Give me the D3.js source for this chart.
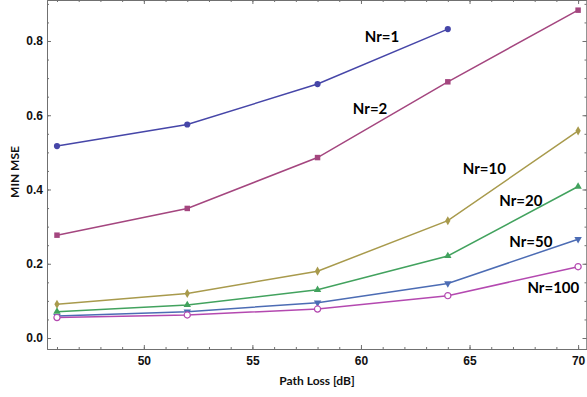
<!DOCTYPE html>
<html>
<head>
<meta charset="utf-8">
<script src="https://cdn.jsdelivr.net/npm/d3@7"></script>
<style>
  html, body { margin: 0; padding: 0; background: #fff; }
  svg { display: block; font-family: Lato, "Open Sans", sans-serif; }
</style>
</head>
<body>
<svg id="chart" width="587" height="397"></svg>
<script>
const pathLoss = [46, 52, 58, 64, 70];
const nr1 = [0.517, 0.575, 0.684, 0.832];
const nr2 = [0.277, 0.349, 0.486, 0.690, 0.883];
const nr10 = [0.091, 0.120, 0.180, 0.316, 0.558];
const nr20 = [0.071, 0.089, 0.130, 0.221, 0.408];
const nr50 = [0.059, 0.071, 0.095, 0.147, 0.266];
const nr100 = [0.055, 0.062, 0.078, 0.114, 0.192];
const xTicks = [50, 55, 60, 65, 70];
const yTicks = [0.0, 0.2, 0.4, 0.6, 0.8];

const series = [
  { name: 'Nr=1', values: nr1, color: '#4646a8', shape: 'circle', label: [60.97, 0.813] },
  { name: 'Nr=2', values: nr2, color: '#a4467f', shape: 'square', label: [60.42, 0.617] },
  { name: 'Nr=10', values: nr10, color: '#a89a4c', shape: 'diamond', label: [65.68, 0.457] },
  { name: 'Nr=20', values: nr20, color: '#42a25e', shape: 'up', label: [67.36, 0.369] },
  { name: 'Nr=50', values: nr50, color: '#4c6cb4', shape: 'down', label: [67.82, 0.259] },
  { name: 'Nr=100', values: nr100, color: '#b449b0', shape: 'open', label: [68.86, 0.135] }
];

const width = 587, height = 397;
const frame = { left: 47, right: 587, top: 0, bottom: 349 };
const svg = d3.select('#chart');

const x = d3.scaleLinear().domain([45.54, 70.41]).range([frame.left, frame.right]);
const y = d3.scaleLinear().domain([-0.0296, 0.9104]).range([frame.bottom, frame.top]);

const minorX = d3.range(46, 71, 1);
const minorY = d3.range(0, 0.91, 0.05);
const axisColor = '#707070';

const styleAxis = (g) => {
  g.selectAll('.domain').attr('stroke', axisColor);
  g.selectAll('.tick line').attr('stroke', axisColor);
  g.selectAll('text').attr('fill', '#111').attr('font-size', 12).attr('font-weight', 'bold');
};

// bottom
svg.append('g').attr('transform', `translate(0,${frame.bottom})`)
  .call(d3.axisBottom(x).tickValues(minorX).tickSize(-2).tickSizeOuter(0).tickFormat(''))
  .call(styleAxis);
svg.append('g').attr('transform', `translate(0,${frame.bottom})`)
  .call(d3.axisBottom(x).tickValues(xTicks).tickSize(-4).tickSizeOuter(0).tickPadding(7.5).tickFormat(d3.format('d')))
  .call(styleAxis);
// top
svg.append('g').attr('transform', `translate(0,${frame.top})`)
  .call(d3.axisTop(x).tickValues(minorX).tickSize(-2).tickSizeOuter(0).tickFormat(''))
  .call(styleAxis);
svg.append('g').attr('transform', `translate(0,${frame.top})`)
  .call(d3.axisTop(x).tickValues(xTicks).tickSize(-4).tickSizeOuter(0).tickFormat(''))
  .call(styleAxis);
// left
svg.append('g').attr('transform', `translate(${frame.left},0)`)
  .call(d3.axisLeft(y).tickValues(minorY).tickSize(-2).tickSizeOuter(0).tickFormat(''))
  .call(styleAxis);
svg.append('g').attr('transform', `translate(${frame.left},0)`)
  .call(d3.axisLeft(y).tickValues(yTicks).tickSize(-4).tickSizeOuter(0).tickPadding(4).tickFormat(d3.format('.1f')))
  .call(styleAxis);
// right
svg.append('g').attr('transform', `translate(${frame.right - 0.5},0)`)
  .call(d3.axisRight(y).tickValues(minorY).tickSize(-2).tickSizeOuter(0).tickFormat(''))
  .call(styleAxis);
svg.append('g').attr('transform', `translate(${frame.right - 0.5},0)`)
  .call(d3.axisRight(y).tickValues(yTicks).tickSize(-4).tickSizeOuter(0).tickFormat(''))
  .call(styleAxis);

// axis titles
svg.append('text')
  .attr('x', 317).attr('y', 385)
  .attr('text-anchor', 'middle')
  .attr('font-size', 12).attr('font-weight', 'bold').attr('fill', '#111')
  .text('Path Loss [dB]');
svg.append('text')
  .attr('transform', 'translate(19,172) rotate(-90)')
  .attr('text-anchor', 'middle')
  .attr('font-size', 12).attr('font-weight', 'bold').attr('fill', '#111')
  .text('MIN MSE');

const line = d3.line().x((d) => x(d[0])).y((d) => y(d[1]));
const symbols = {
  circle: d3.symbol().type(d3.symbolCircle).size(30),
  open: d3.symbol().type(d3.symbolCircle).size(30),
  square: d3.symbol().type(d3.symbolSquare).size(30),
  diamond: d3.symbol().type(d3.symbolDiamond).size(24),
  up: d3.symbol().type(d3.symbolTriangle).size(24),
  down: d3.symbol().type(d3.symbolTriangle).size(24)
};

series.forEach((s) => {
  const pts = s.values.map((v, i) => [pathLoss[i], v]);
  svg.append('path')
    .datum(pts)
    .attr('d', line)
    .attr('fill', 'none')
    .attr('stroke', s.color)
    .attr('stroke-width', 1.5);
  svg.append('g')
    .selectAll('path')
    .data(pts)
    .enter()
    .append('path')
    .attr('d', symbols[s.shape])
    .attr('transform', (d) => `translate(${x(d[0])},${y(d[1])})${s.shape === 'down' ? ' rotate(180)' : ''}`)
    .attr('fill', s.shape === 'open' ? '#fff' : s.color)
    .attr('stroke', s.color)
    .attr('stroke-width', s.shape === 'open' ? 1.2 : 0);
  svg.append('text')
    .attr('x', x(s.label[0]))
    .attr('y', y(s.label[1]))
    .attr('dy', '0.36em')
    .attr('text-anchor', 'middle')
    .attr('font-size', 15)
    .attr('font-weight', 'bold')
    .attr('fill', '#000')
    .text(s.name);
});
</script>
</body>
</html>
